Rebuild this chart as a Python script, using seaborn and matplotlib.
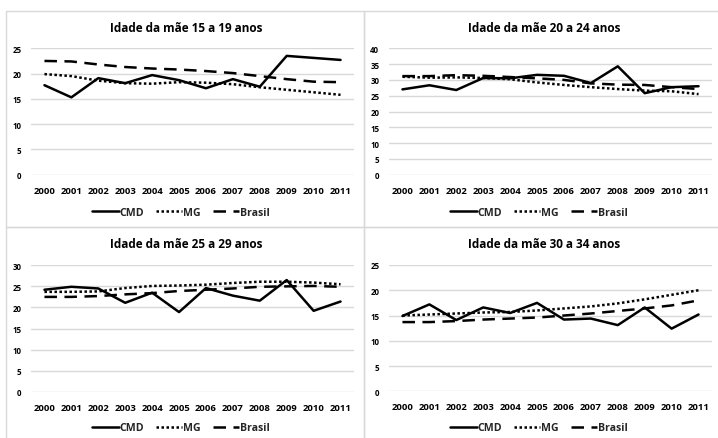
import matplotlib
matplotlib.use("Agg")
import matplotlib.pyplot as plt
import seaborn as sns
import pandas as pd
from matplotlib.patches import Rectangle

sns.set_theme(style="white")
plt.rcParams["font.family"] = ["Open Sans", "DejaVu Sans"]
plt.rcParams["font.weight"] = "bold"

years = ["2000", "2001", "2002", "2003", "2004", "2005",
         "2006", "2007", "2008", "2009", "2010", "2011"]
series_names = ["CMD", "MG", "Brasil"]

titles = ["Idade da mãe 15 a 19 anos", "Idade da mãe 20 a 24 anos",
          "Idade da mãe 25 a 29 anos", "Idade da mãe 30 a 34 anos"]

# 15 a 19 anos
cmd_15_19 = [17.7, 15.3, 19.1, 18.1, 19.7, 18.7, 17.1, 18.9, 17.4, 23.5, 23.1, 22.7]
mg_15_19 = [19.9, 19.5, 18.6, 18.1, 18.0, 18.3, 18.2, 17.9, 17.3, 16.8, 16.3, 15.8]
br_15_19 = [22.5, 22.4, 21.8, 21.3, 21.0, 20.8, 20.5, 20.1, 19.5, 18.9, 18.4, 18.3]

# 20 a 24 anos
cmd_20_24 = [27.0, 28.3, 26.8, 30.6, 30.5, 31.6, 31.3, 29.0, 34.3, 25.8, 27.7, 28.0]
mg_20_24 = [31.0, 30.7, 30.8, 30.6, 30.2, 29.2, 28.4, 27.7, 27.1, 26.6, 26.4, 25.5]
br_20_24 = [31.2, 31.2, 31.5, 31.3, 30.9, 30.5, 30.0, 28.9, 28.5, 28.4, 27.7, 27.1]

# 25 a 29 anos
cmd_25_29 = [24.2, 24.9, 24.5, 21.1, 23.5, 18.9, 24.6, 22.8, 21.6, 26.5, 19.2, 21.4]
mg_25_29 = [23.7, 23.7, 23.8, 24.6, 25.1, 25.2, 25.4, 25.8, 26.1, 26.1, 25.9, 25.5]
br_25_29 = [22.5, 22.5, 22.7, 23.1, 23.4, 23.9, 24.2, 24.5, 24.9, 25.0, 25.1, 24.9]

# 30 a 34 anos
cmd_30_34 = [14.9, 17.2, 14.1, 16.6, 15.5, 17.5, 14.2, 14.4, 13.1, 16.6, 12.4, 15.2]
mg_30_34 = [15.0, 15.2, 15.4, 15.6, 15.7, 16.0, 16.4, 16.8, 17.4, 18.2, 19.1, 20.0]
br_30_34 = [13.7, 13.7, 13.9, 14.2, 14.4, 14.6, 15.0, 15.4, 15.9, 16.4, 17.0, 18.0]

y_max = [25, 40, 30, 25]

panel_data = [
    (cmd_15_19, mg_15_19, br_15_19),
    (cmd_20_24, mg_20_24, br_20_24),
    (cmd_25_29, mg_25_29, br_25_29),
    (cmd_30_34, mg_30_34, br_30_34),
]

W, H = 718, 439
fig = plt.figure(figsize=(W / 100, H / 100), dpi=100)
fig.patch.set_facecolor("white")

# panel frames (pixels): x0, y0, x1, y1
frames = [(6, 12, 364, 228), (364, 12, 730, 228),
          (6, 228, 364, 450), (364, 228, 730, 450)]
# plot areas (pixels): left, top, right, bottom
areas = [(31, 49.3, 354, 175.7), (389, 49.3, 712, 175.7),
         (31, 266.3, 354, 392.7), (389, 266.0, 712, 392.3)]

line_styles = {
    "CMD": None,
    "MG": (1, 1),
    "Brasil": (5.0, 3.0),
}

grid_color = "#d9d9d9"

for i in range(4):
    x0, y0, x1, y1 = frames[i]
    fig.patches.append(Rectangle((x0 / W, 1 - y1 / H), (x1 - x0) / W, (y1 - y0) / H,
                                 transform=fig.transFigure, fill=False,
                                 edgecolor=grid_color, linewidth=1.0, zorder=0))

    l, t, r, b = areas[i]
    ax = fig.add_axes([l / W, 1 - b / H, (r - l) / W, (b - t) / H])
    ax.set_facecolor("none")

    df = pd.DataFrame({"ano": years * 3,
                       "valor": list(panel_data[i][0]) + list(panel_data[i][1]) + list(panel_data[i][2]),
                       "serie": [s for s in series_names for _ in years]})
    handles = []
    for name in series_names:
        sub = df[df["serie"] == name]
        sns.lineplot(data=sub, x="ano", y="valor", ax=ax, color="black",
                     linewidth=1.8, legend=False, sort=False)
        ln = ax.lines[-1]
        if line_styles[name] is not None:
            ln.set_linestyle("--")
            ln.set_dashes(line_styles[name])
        ln.set_label(name)
        handles.append(ln)

    ax.set_xlim(-0.5, 11.5)
    ax.set_ylim(0, y_max[i])
    ax.set_yticks(range(0, y_max[i] + 1, 5))
    ax.yaxis.grid(True, color=grid_color, linewidth=1.0)
    ax.xaxis.grid(False)
    ax.set_axisbelow(True)
    for sp in ax.spines.values():
        sp.set_visible(False)
    ax.tick_params(axis="y", length=0, pad=7, labelsize=5.7, labelcolor="black")
    ax.tick_params(axis="x", length=0, pad=8, labelsize=6.8, labelcolor="black")
    for lab in ax.get_xticklabels() + ax.get_yticklabels():
        lab.set_fontweight("bold")
    ax.set_xlabel("")
    ax.set_ylabel("")

    cx = 186 if i % 2 == 0 else 544
    fig.text(cx / W, 1 - (y0 + 17) / H, titles[i], ha="center", va="center",
             fontsize=8.5, fontweight="bold", color="black")

    leg = ax.legend(handles=handles, labels=series_names, loc="center",
                    bbox_to_anchor=((181 if i % 2 == 0 else 539) / W, 1 - (y0 + 201) / H),
                    bbox_transform=fig.transFigure, ncol=3, frameon=False,
                    fontsize=7.6, handlelength=2.5, handletextpad=0.1,
                    columnspacing=1.1, borderpad=0)
    for txt in leg.get_texts():
        txt.set_fontweight("bold")

fig.savefig("out.png", dpi=100, facecolor="white")
